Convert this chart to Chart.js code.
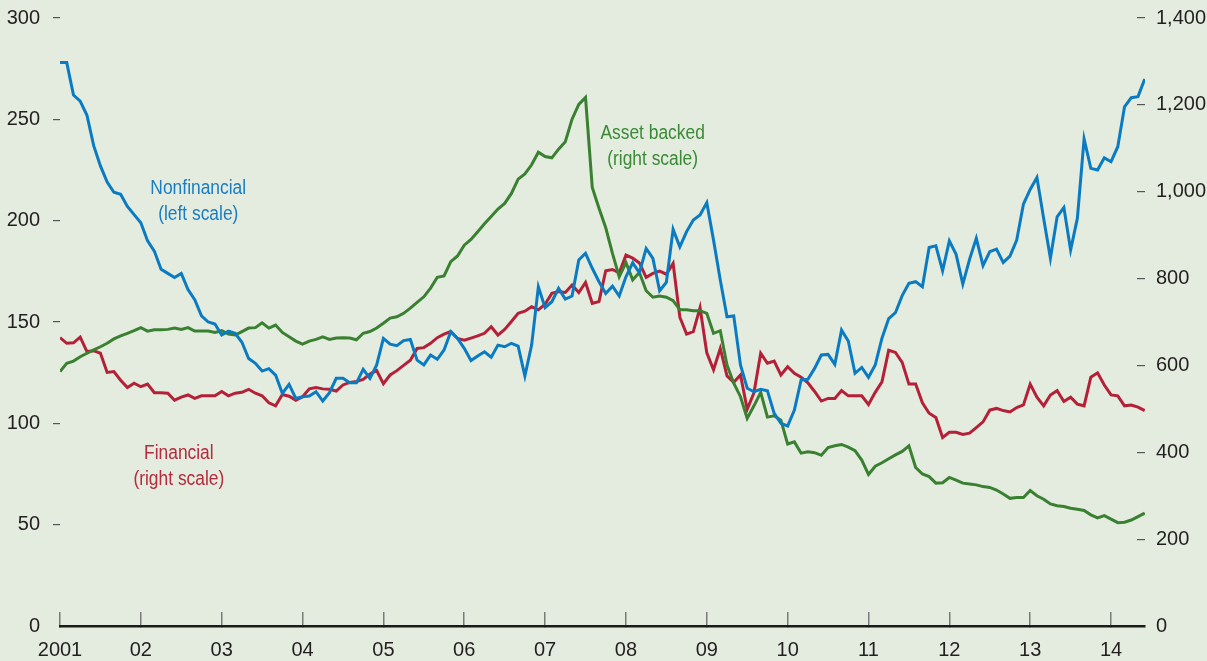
<!DOCTYPE html>
<html>
<head>
<meta charset="utf-8">
<script src="https://cdn.jsdelivr.net/npm/chart.js@4.4.1/dist/chart.umd.min.js"></script>
<style>
  html, body { margin: 0; padding: 0; background: #e3ecdf; }
  #wrap { width: 1207px; height: 661px; }
</style>
</head>
<body>
<div id="wrap"><canvas id="spreadChart" width="1207" height="661"></canvas></div>
<script>
// monthly series, Jan 2001 - Jun 2014
const startYear = 2001;

// left scale
const nonfinancial = [
  278, 278, 262, 259, 252, 237, 227, 219, 214, 213, 207, 203,
  199, 190, 185, 176, 174, 172, 174, 166, 161, 153, 150, 149,
  143.6, 145.5, 144.4, 140, 132, 129.6, 125.8, 127, 123.8, 114.8, 119.2, 112.3,
  113.1, 113.5, 115.6, 111, 115.1, 122.2, 122.2, 120, 120, 126.6, 122.2, 128.8,
  141.9, 139.1, 138.3, 140.8, 141.4, 131.2, 128.8, 133.7, 131.6, 136.2, 145.2, 141.9,
  137, 131, 133.2, 135.3, 132.6, 138.6, 137.8, 139.5, 138.1, 123.3, 138.6, 167.4,
  157.1, 160, 166.6, 161.3, 162.8, 180.6, 183.9, 176.5, 169.9, 164.1, 167.7, 162.8,
  172.3, 179.2, 174.3, 186.3, 181.4, 165.4, 169.6, 195.7, 187.1, 194.6, 200.3, 202.8,
  208.9, 190.4, 170.7, 152.6, 153, 128.8, 117.3, 115.6, 116.8, 116.1, 104.9, 100,
  98.7, 106.6, 121.4, 121.7, 127.1, 133.7, 134, 129.1, 146, 140.6, 124.7, 127.6,
  122.7, 128.8, 142, 151.7, 154.6, 163, 169.1, 169.9, 167.4, 186.8, 187.6, 175.3,
  190, 183.4, 168.7, 180.9, 191.3, 177.8, 184.7, 186, 179.4, 182.5, 190.4, 208.2,
  215.4, 221.3, 201.1, 181.4, 201.9, 206.5, 185.5, 201.1, 240.3, 225.8, 225, 231,
  229.1, 236.5, 256.2, 260.7, 261.2, 269.9
];

// right scale
const assetBacked = [
  586, 605, 610, 620, 628, 636, 643, 651, 661, 668, 674, 680,
  687, 679, 682, 682, 683, 686, 683, 687, 679, 679, 679, 676,
  680, 672, 670, 678, 686, 687, 698, 686, 693, 676, 666, 656,
  649, 656, 660, 666, 660, 663, 664, 663, 659, 674, 678, 686,
  697, 709, 712, 720, 732, 745, 758, 778, 803, 806, 839, 852,
  877, 890, 908, 926, 943, 960, 973, 996, 1029, 1041, 1062, 1091,
  1081, 1078, 1098, 1115, 1167, 1201, 1217, 1010, 962, 917, 858, 804,
  837, 797, 814, 772, 757, 760, 757, 749, 728, 728, 726, 726,
  720, 674, 680, 601, 559, 528, 478, 507, 538, 481, 484, 474,
  419, 424, 398, 401, 399, 393, 411, 415, 418, 412, 404, 382,
  349, 368, 376, 385, 394, 402, 415, 365, 350, 344, 329, 330,
  342, 336, 329, 327, 325, 321, 319, 313, 304, 294, 296, 296,
  312, 300, 292, 281, 277, 275, 271, 269, 266, 256, 249, 254,
  246, 238, 239, 244, 252, 260
];

// right scale
const financial = [
  664, 651, 652, 665, 632, 634, 628, 584, 586, 566, 549, 559,
  551, 557, 537, 537, 536, 520, 527, 532, 524, 530, 530, 530,
  540, 530, 536, 538, 545, 536, 530, 514, 507, 533, 529, 520,
  528, 546, 549, 546, 545, 541, 555, 561, 563, 568, 580, 588,
  558, 578, 588, 600, 612, 639, 641, 651, 664, 672, 678, 662,
  658, 663, 668, 674, 689, 670, 683, 701, 720, 725, 735, 728,
  741, 766, 770, 768, 785, 768, 791, 743, 747, 818, 821, 813,
  854, 847, 836, 803, 812, 817, 810, 835, 711, 672, 678, 733,
  629, 590, 639, 576, 561, 578, 499, 537, 628, 605, 610, 578,
  597, 582, 573, 560, 540, 518, 524, 524, 542, 530, 530, 530,
  510, 538, 562, 635, 630, 607, 557, 557, 514, 490, 480, 434,
  446, 446, 441, 444, 457, 470, 497, 501, 496, 493, 503, 509,
  557, 527, 507, 532, 542, 517, 527, 511, 507, 573, 583, 555,
  532, 530, 507, 509, 504, 496
];

const yearTicks = ['2001', '02', '03', '04', '05', '06', '07', '08', '09', '10', '11', '12', '13', '14'];

const dates = nonfinancial.map((v, i) => startYear + i / 12);
const toPoints = arr => arr.map((v, i) => ({ x: dates[i], y: v }));

const bgColor = '#e3ecdf';
const textColor = '#231f20';
const fontFamily = "'Liberation Sans', Arial, sans-serif";

// series name labels, anchored in data units
const seriesLabels = [
  { lines: ['Nonfinancial', '(left scale)'], x: 2002.71, y: 216, axis: 'y', color: '#1a7dc2' },
  { lines: ['Asset backed', '(right scale)'], x: 2008.33, y: 1135, axis: 'y2', color: '#3b8a35' },
  { lines: ['Financial', '(right scale)'], x: 2002.47, y: 398, axis: 'y2', color: '#b52a3d' }
];

const backgroundPlugin = {
  id: 'bg',
  beforeDraw(chart) {
    const c = chart.ctx;
    c.save();
    c.fillStyle = bgColor;
    c.fillRect(0, 0, chart.width, chart.height);
    c.restore();
  }
};

// condensed-looking text: squeeze horizontally
const labelPlugin = {
  id: 'seriesLabels',
  afterDatasetsDraw(chart) {
    const c = chart.ctx;
    const xs = chart.scales.x;
    seriesLabels.forEach(l => {
      const px = xs.getPixelForValue(l.x);
      const py = chart.scales[l.axis].getPixelForValue(l.y);
      c.save();
      c.font = '20px ' + fontFamily;
      c.textAlign = 'center';
      c.textBaseline = 'middle';
      c.fillStyle = l.color;
      c.translate(px, py);
      c.scale(0.87, 1);
      l.lines.forEach((t, i) => c.fillText(t, 0, i * 26));
      c.restore();
    });
  }
};

const tickFont = { family: fontFamily, size: 20 };
const hideZero = ctx => (ctx.tick && ctx.tick.value === 0) ? 'rgba(0,0,0,0)' : '#555555';
// fixed axis widths; no extra label padding above/below the plot
const fixY = w => s => { s.width = w; s.paddingTop = 0; s.paddingBottom = 0; };

new Chart(document.getElementById('spreadChart').getContext('2d'), {
  type: 'line',
  data: {
    datasets: [
      { label: 'Nonfinancial', data: toPoints(nonfinancial), yAxisID: 'y', borderColor: '#0a7bc2', borderWidth: 3, pointRadius: 0, tension: 0 },
      { label: 'Asset backed', data: toPoints(assetBacked), yAxisID: 'y2', borderColor: '#3a8031', borderWidth: 3, pointRadius: 0, tension: 0 },
      { label: 'Financial', data: toPoints(financial), yAxisID: 'y2', borderColor: '#b42037', borderWidth: 3, pointRadius: 0, tension: 0 }
    ]
  },
  options: {
    responsive: false,
    animation: false,
    layout: { padding: { top: 18, left: 0, right: 0, bottom: 0 } },
    plugins: {
      legend: { display: false },
      tooltip: { enabled: false },
      title: { display: false }
    },
    scales: {
      x: {
        type: 'linear',
        min: 2001,
        max: 2014.42,
        afterFit: s => { s.height = 35; },
        border: { display: true, color: '#1a1a1a', width: 2.5 },
        grid: { drawOnChartArea: false, tickLength: -14, color: '#7a7a7a', lineWidth: 1.5 },
        ticks: {
          stepSize: 1,
          includeBounds: false,
          autoSkip: false,
          maxRotation: 0,
          padding: 26,
          color: textColor,
          font: tickFont,
          callback: v => yearTicks[v - startYear]
        }
      },
      y: {
        position: 'left',
        min: 0,
        max: 300,
        afterFit: fixY(60),
        border: { display: false },
        grid: { drawOnChartArea: false, tickLength: 7, color: hideZero, lineWidth: 1.2 },
        ticks: { stepSize: 50, padding: 13, color: textColor, font: tickFont }
      },
      y2: {
        position: 'right',
        min: 0,
        max: 1400,
        afterFit: fixY(62),
        border: { display: false },
        grid: { drawOnChartArea: false, tickLength: -8, color: hideZero, lineWidth: 1.2 },
        ticks: {
          stepSize: 200,
          padding: 19,
          color: textColor,
          font: tickFont,
          callback: v => v.toLocaleString('en-US')
        }
      }
    }
  },
  plugins: [backgroundPlugin, labelPlugin]
});
</script>
</body>
</html>
